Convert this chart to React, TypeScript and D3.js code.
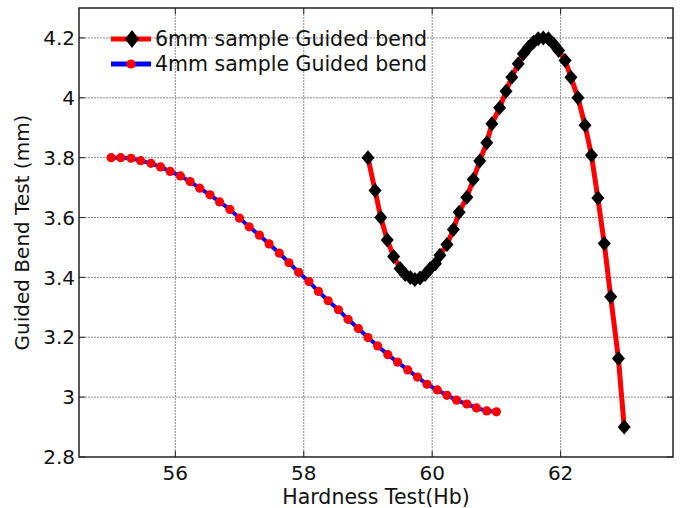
import React from "react";
import * as d3 from "d3";

const xTicks = [56, 58, 60, 62];
const yTicks = [2.8, 3, 3.2, 3.4, 3.6, 3.8, 4, 4.2];

const x4mm = [55.0, 55.15, 55.31, 55.46, 55.62, 55.77, 55.92, 56.08, 56.23, 56.38, 56.54, 56.69, 56.85, 57.0, 57.15, 57.31, 57.46, 57.62, 57.77, 57.92, 58.08, 58.23, 58.38, 58.54, 58.69, 58.85, 59.0, 59.15, 59.31, 59.46, 59.62, 59.77, 59.92, 60.08, 60.23, 60.38, 60.54, 60.69, 60.85, 61.0];
const y4mm = [3.8, 3.8, 3.798, 3.79, 3.781, 3.769, 3.754, 3.739, 3.72, 3.698, 3.676, 3.652, 3.627, 3.598, 3.569, 3.541, 3.512, 3.481, 3.449, 3.417, 3.386, 3.353, 3.322, 3.292, 3.26, 3.229, 3.199, 3.171, 3.142, 3.117, 3.091, 3.067, 3.043, 3.024, 3.006, 2.99, 2.977, 2.964, 2.954, 2.951];

const x6mm = [59.0, 59.11, 59.2, 59.3, 59.4, 59.5, 59.58, 59.66, 59.73, 59.81, 59.89, 59.97, 60.05, 60.12, 60.23, 60.33, 60.42, 60.54, 60.64, 60.74, 60.85, 60.93, 61.05, 61.15, 61.24, 61.34, 61.42, 61.5, 61.58, 61.65, 61.73, 61.81, 61.89, 61.97, 62.07, 62.16, 62.27, 62.38, 62.48, 62.58, 62.68, 62.78, 62.9, 62.99];
const y6mm = [3.8, 3.69, 3.6, 3.525, 3.47, 3.43, 3.41, 3.4, 3.393, 3.398, 3.41, 3.43, 3.446, 3.474, 3.51, 3.56, 3.618, 3.668, 3.727, 3.789, 3.85, 3.913, 3.967, 4.022, 4.069, 4.114, 4.147, 4.169, 4.186, 4.197, 4.2, 4.197, 4.18, 4.158, 4.125, 4.069, 4.0, 3.908, 3.808, 3.665, 3.513, 3.335, 3.129, 2.9];

const legendLabels = ["6mm sample Guided bend", "4mm sample Guided bend"];
const xLabel = "Hardness Test(Hb)";
const yLabel = "Guided Bend Test (mm)";

export default function App() {
  const W = 683, H = 508;
  const L = 79, R = 673, T = 8, B = 457;
  const x = d3.scaleLinear().domain([54.5, 63.75]).range([L, R]);
  const y = d3.scaleLinear().domain([2.8, 4.3]).range([B, T]);
  const font = "DejaVu Sans, sans-serif";

  const d4 = x4mm.map((v, i) => [v, y4mm[i]] as [number, number]);
  const d6 = x6mm.map((v, i) => [v, y6mm[i]] as [number, number]);
  const line = d3.line<[number, number]>().x(d => x(d[0])).y(d => y(d[1]));
  const diamond = (cx: number, cy: number, hw: number, hh: number) =>
    `M${cx},${cy - hh}L${cx + hw},${cy}L${cx},${cy + hh}L${cx - hw},${cy}Z`;

  const tickLen = 6;

  return (
    <svg width={W} height={H} style={{ position: "absolute", left: 0, top: 0, background: "#fff" }} fontFamily={font}>
      <rect x={0} y={0} width={W} height={H} fill="#fff" />
      {/* grid */}
      {xTicks.map(t => (
        <line key={"gx" + t} x1={x(t)} x2={x(t)} y1={T} y2={B} stroke="#8a8a8a" strokeWidth={1} strokeDasharray="2,1" />
      ))}
      {yTicks.filter(t => t > 2.8).map(t => (
        <line key={"gy" + t} x1={L} x2={R} y1={y(t)} y2={y(t)} stroke="#8a8a8a" strokeWidth={1} strokeDasharray="2,1" />
      ))}
      {/* ticks */}
      {xTicks.map(t => (
        <g key={"tx" + t}>
          <line x1={x(t)} x2={x(t)} y1={B} y2={B - tickLen} stroke="#222" strokeWidth={1} />
          <line x1={x(t)} x2={x(t)} y1={T} y2={T + tickLen} stroke="#222" strokeWidth={1} />
          <text x={x(t)} y={480} textAnchor="middle" fontSize={20} fill="#111">{t}</text>
        </g>
      ))}
      {yTicks.map(t => (
        <g key={"ty" + t}>
          <line x1={L} x2={L + tickLen} y1={y(t)} y2={y(t)} stroke="#222" strokeWidth={1} />
          <line x1={R} x2={R - tickLen} y1={y(t)} y2={y(t)} stroke="#222" strokeWidth={1} />
          <text x={75} y={y(t)} dy="0.36em" textAnchor="end" fontSize={20} fill="#111">{String(t)}</text>
        </g>
      ))}
      {/* box */}
      <rect x={L} y={T} width={R - L} height={B - T} fill="none" stroke="#222" strokeWidth={1.5} />
      {/* 4mm series */}
      <path d={line(d4) || ""} fill="none" stroke="#0000ff" strokeWidth={4} />
      {d4.map((d, i) => (
        <circle key={"c" + i} cx={x(d[0])} cy={y(d[1])} r={4.6} fill="#ff0000" />
      ))}
      {/* 6mm series */}
      <path d={line(d6) || ""} fill="none" stroke="#ff0000" strokeWidth={5} />
      {d6.map((d, i) => (
        <path key={"d" + i} d={diamond(x(d[0]), y(d[1]), 6.5, 7.5)} fill="#000" />
      ))}
      {/* legend */}
      <line x1={111} x2={151} y1={39} y2={39} stroke="#ff0000" strokeWidth={5} />
      <path d={diamond(132, 39, 7, 9)} fill="#000" />
      <text x={155} y={39} dy="0.36em" fontSize={20.5} fill="#111">{legendLabels[0]}</text>
      <line x1={111} x2={151} y1={64} y2={64} stroke="#0000ff" strokeWidth={5} />
      <circle cx={131} cy={64} r={4.6} fill="#ff0000" />
      <text x={155} y={64} dy="0.36em" fontSize={20.5} fill="#111">{legendLabels[1]}</text>
      {/* axis labels */}
      <text x={(L + R) / 2} y={504} textAnchor="middle" fontSize={20.5} fill="#111">{xLabel}</text>
      <text transform={`translate(29,${(T + B) / 2}) rotate(-90)`} textAnchor="middle" fontSize={20} fill="#111">{yLabel}</text>
    </svg>
  );
}
